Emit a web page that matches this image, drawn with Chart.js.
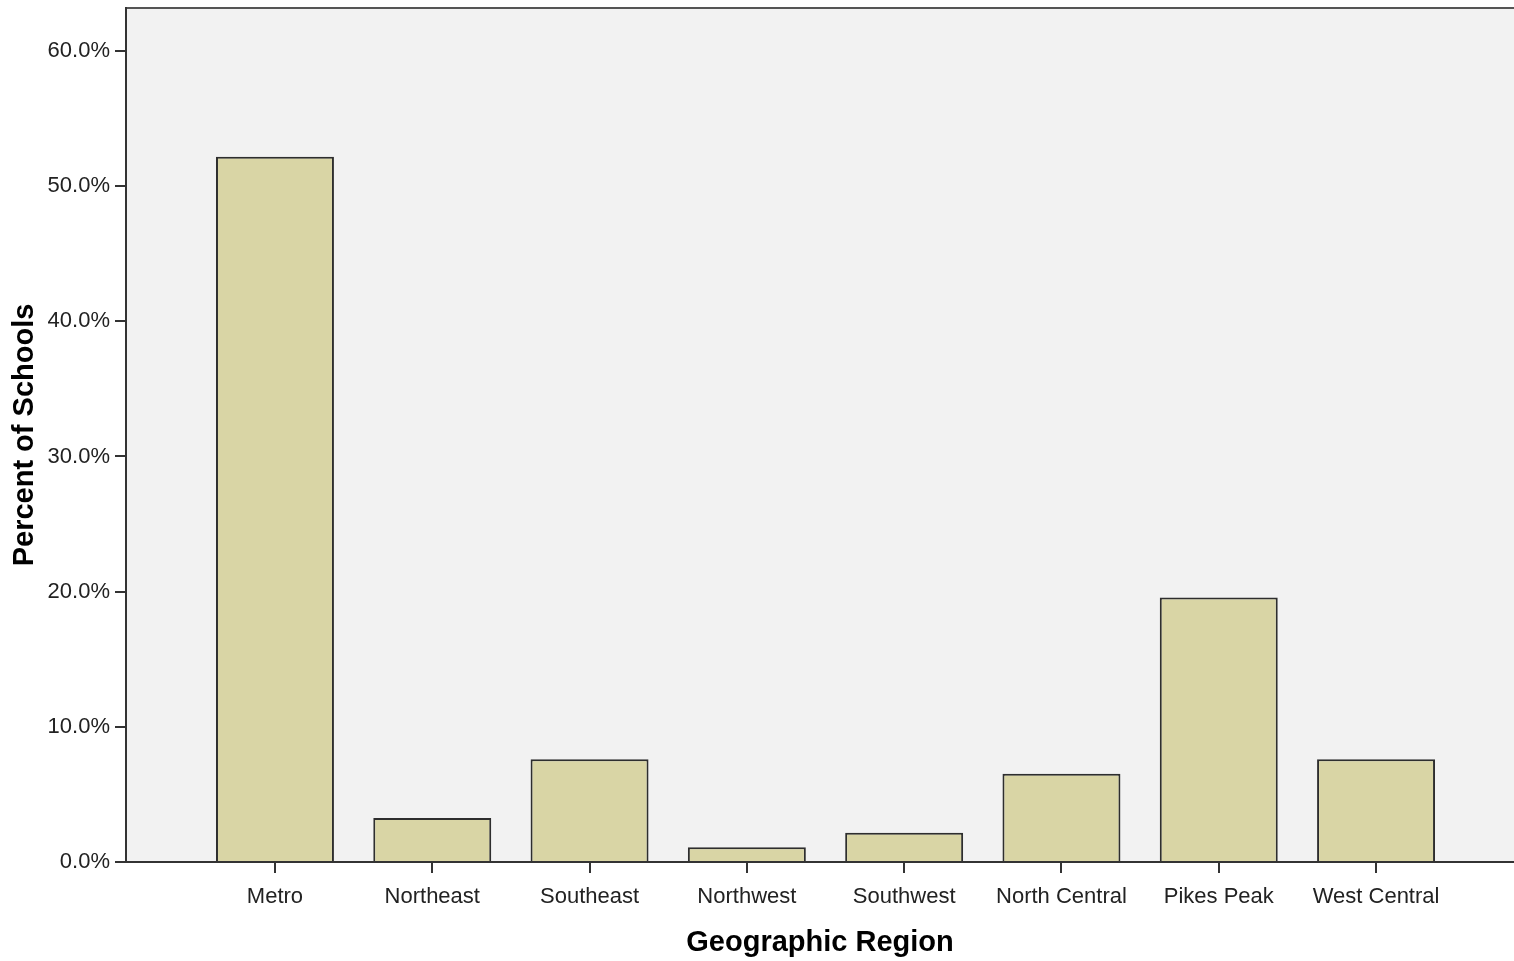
<!DOCTYPE html>
<html>
<head>
<meta charset="utf-8">
<script src="https://cdn.jsdelivr.net/npm/chart.js@4/dist/chart.umd.min.js"></script>
<style>
  html, body { margin: 0; padding: 0; background: #ffffff; }
  #wrap { width: 1514px; height: 961px; }
</style>
</head>
<body>
<div id="wrap"><canvas id="c" width="1514" height="961"></canvas></div>
<script>
// ---- data ----
const categories = ["Metro", "Northeast", "Southeast", "Northwest", "Southwest", "North Central", "Pikes Peak", "West Central"];
const percentValues = [52.17, 3.26, 7.61, 1.09, 2.17, 6.52, 19.57, 7.61];
const yTickValues = [0, 10, 20, 30, 40, 50, 60];
const xAxisTitle = "Geographic Region";
const yAxisTitle = "Percent of Schools";

const FONT = '"Liberation Sans", Arial, sans-serif';

const plotBg = {
  id: 'plotBg',
  beforeDraw(chart) {
    const {ctx, chartArea: a} = chart;
    ctx.save();
    ctx.fillStyle = '#f2f2f2';
    ctx.fillRect(a.left, a.top, a.right - a.left, a.bottom - a.top);
    ctx.strokeStyle = '#555555';
    ctx.lineWidth = 2;
    ctx.beginPath();
    ctx.moveTo(a.left, a.top);
    ctx.lineTo(a.right, a.top);
    ctx.stroke();
    ctx.restore();
  }
};

new Chart(document.getElementById('c'), {
  type: 'bar',
  data: {
    datasets: [{
      data: categories.map((c, i) => ({x: i, y: percentValues[i]})),
      backgroundColor: '#d9d5a5',
      borderColor: '#2e2e2e',
      borderWidth: 2,
      borderSkipped: 'start',
      categoryPercentage: 1.0,
      barPercentage: 0.75
    }]
  },
  options: {
    responsive: false,
    animation: false,
    events: [],
    layout: { padding: { top: 8, right: 0, left: 0, bottom: 0 } },
    plugins: { legend: { display: false }, tooltip: { enabled: false } },
    scales: {
      x: {
        type: 'linear',
        offset: false,
        min: -0.947,
        max: 7.877,
        afterBuildTicks: s => { s.ticks = categories.map((c, i) => ({value: i})); },
        afterFit: s => { s.height = 99; s.paddingLeft = 0; s.paddingRight = 0; },
        ticks: {
          autoSkip: false,
          maxRotation: 0,
          padding: 11,
          color: '#222222',
          font: { family: FONT, size: 22 },
          callback: v => categories[v]
        },
        grid: { offset: false, drawOnChartArea: false, drawTicks: true, tickLength: 11, color: '#333333', lineWidth: 2 },
        border: { display: true, color: '#333333', width: 2 },
        title: {
          display: true,
          text: xAxisTitle,
          color: '#000000',
          font: { family: FONT, size: 29, weight: 'bold' },
          padding: { top: 0, bottom: 1 }
        }
      },
      y: {
        min: 0,
        max: 63.18,
        afterBuildTicks: s => { s.ticks = yTickValues.map(v => ({value: v})); },
        afterFit: s => { s.width = 126; s.paddingTop = 0; s.paddingBottom = 0; },
        ticks: {
          padding: 5,
          color: '#222222',
          font: { family: FONT, size: 22 },
          callback: v => v.toFixed(1) + '%'
        },
        grid: { drawOnChartArea: false, drawTicks: true, tickLength: 11, color: '#333333', lineWidth: 2 },
        border: { display: true, color: '#333333', width: 2 },
        title: {
          display: true,
          text: yAxisTitle,
          color: '#000000',
          font: { family: FONT, size: 29, weight: 'bold' },
          padding: { top: 8, bottom: 0 }
        }
      }
    }
  },
  plugins: [plotBg]
});
</script>
</body>
</html>
